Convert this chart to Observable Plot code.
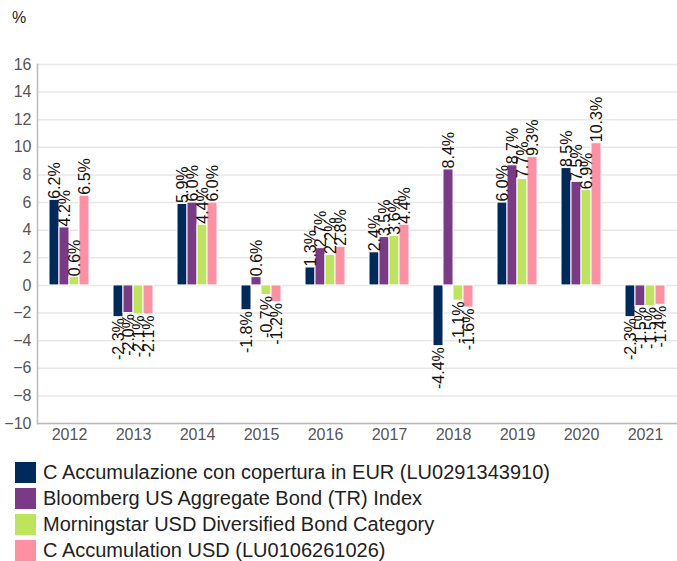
<!DOCTYPE html>
<html>
<head>
<meta charset="utf-8">
<script src="https://cdn.jsdelivr.net/npm/d3@7"></script>
<script src="https://cdn.jsdelivr.net/npm/@observablehq/plot@0.6"></script>
<style>
  body { margin: 0; background: #fff; font-family: "Liberation Sans", Arial, sans-serif; }
  #wrap { position: relative; width: 677px; }
  #unit { position: absolute; left: 12px; top: 9px; font-size: 16px; color: #222; }
  #legend { margin-top: 9px; }
  .row { display: flex; align-items: center; height: 26px; font-size: 20px; color: #222; white-space: nowrap; }
  .sw { width: 21px; height: 21px; margin-left: 15px; margin-right: 7px; flex: none; }
</style>
</head>
<body>
<div id="wrap">
  <div id="unit">%</div>
  <div id="chart"></div>
  <div id="legend"></div>
</div>
<script>
const years = [2012, 2013, 2014, 2015, 2016, 2017, 2018, 2019, 2020, 2021];
const seriesNames = [
  "C Accumulazione con copertura in EUR (LU0291343910)",
  "Bloomberg US Aggregate Bond (TR) Index",
  "Morningstar USD Diversified Bond Category",
  "C Accumulation USD (LU0106261026)"
];
const fundEUR   = [6.2, -2.3, 5.9, -1.8, 1.3, 2.4, -4.4, 6.0, 8.5, -2.3];
const bloomberg = [4.2, -2.0, 6.0, 0.6, 2.7, 3.5, 8.4, 8.7, 7.5, -1.5];
const category  = [0.6, -2.1, 4.4, -0.7, 2.2, 3.6, -1.1, 7.7, 6.9, -1.5];
const fundUSD   = [6.5, -2.1, 6.0, -1.2, 2.8, 4.4, -1.6, 9.3, 10.3, -1.4];
const yTicks = [-10, -8, -6, -4, -2, 0, 2, 4, 6, 8, 10, 12, 14, 16];
const colors = ["#002A5C", "#7B3A88", "#BCE55C", "#FF8FA2"];

const seriesValues = [fundEUR, bloomberg, category, fundUSD];
const data = years.flatMap((yr, i) =>
  seriesNames.map((s, j) => ({year: yr, series: s, value: seriesValues[j][i]}))
);
const fmt = d => d.value.toFixed(1) + "%";

const chart = Plot.plot({
  width: 677,
  height: 450,
  marginTop: 64,
  marginBottom: 27,
  marginLeft: 37,
  marginRight: 0,
  style: {fontFamily: "'Liberation Sans', Arial, sans-serif", fontSize: "16px", background: "#fff"},
  fx: {domain: years, padding: 0, label: null, axis: null},
  x: {domain: seriesNames, paddingInner: 0, paddingOuter: 0.94, axis: null},
  y: {domain: [-10, 16], label: null, axis: null},
  color: {domain: seriesNames, range: colors},
  marks: [
    Plot.gridY(yTicks, {stroke: "#e8e8e8", strokeOpacity: 1, strokeWidth: 1.5}),
    Plot.ruleY([-10], {stroke: "#bbb", strokeWidth: 1.5}),
    Plot.frame({anchor: "left", facetAnchor: "left", stroke: "#bbb", strokeWidth: 1.5}),
    Plot.axisY(yTicks, {tickSize: 0, tickPadding: 6, fill: "#555", label: null, fontSize: 16}),
    Plot.axisFx({anchor: "bottom", tickSize: 0, tickPadding: 5, tickFormat: d => String(d), fill: "#555", label: null, fontSize: 16}),
    Plot.barY(data, {fx: "year", x: "series", y: "value", fill: "series", stroke: "#fff", strokeWidth: 1}),
    Plot.text(data.filter(d => d.value >= 0), {
      fx: "year", x: "series", y: "value", text: fmt, rotate: -90,
      textAnchor: "start", dy: -1, fill: "#111", fontSize: 16
    }),
    Plot.text(data.filter(d => d.value < 0), {
      fx: "year", x: "series", y: "value", text: fmt, rotate: -90,
      textAnchor: "end", dy: 1, fill: "#111", fontSize: 16
    })
  ]
});
document.getElementById("chart").appendChild(chart);

const legend = document.getElementById("legend");
seriesNames.forEach((s, j) => {
  const row = document.createElement("div");
  row.className = "row";
  const sw = document.createElement("span");
  sw.className = "sw";
  sw.style.background = colors[j];
  const t = document.createElement("span");
  t.textContent = s;
  row.appendChild(sw);
  row.appendChild(t);
  legend.appendChild(row);
});
</script>
</body>
</html>
